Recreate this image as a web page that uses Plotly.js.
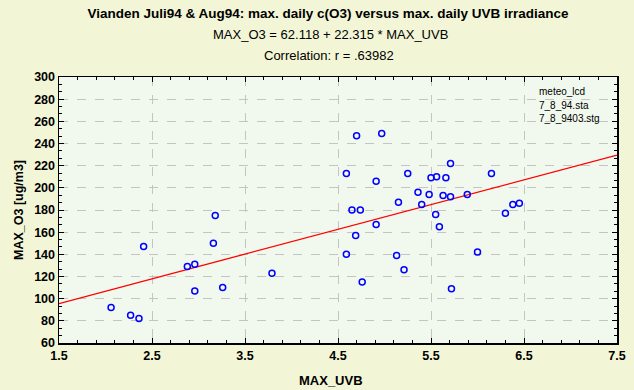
<!DOCTYPE html>
<html>
<head>
<meta charset="utf-8">
<script src="https://cdn.plot.ly/plotly-3.0.1.min.js"></script>
<style>html,body{margin:0;padding:0;background:#f3f6d6;}#chart{width:634px;height:390px;}</style>
</head>
<body>
<div id="chart"></div>
<script>
const maxUVB = [2.06, 2.27, 2.36, 2.41, 2.88, 2.96, 2.96, 3.16, 3.18, 3.26, 3.79,
  4.70, 4.97, 5.71, 4.59, 5.25, 6.15, 4.91, 5.50, 5.56, 5.66, 5.36, 5.48, 5.63, 5.71, 5.89,
  5.15, 5.40, 4.65, 4.74, 5.55, 4.91, 5.59, 4.69, 4.59, 5.13, 6.00, 5.21, 4.76, 5.72,
  6.38, 6.45, 6.30];
const maxO3 = [92, 85, 82, 147, 129, 131, 107, 150, 175, 110, 123,
  247, 249, 222, 213, 213, 213, 206, 209, 210, 209, 196, 194, 193, 192, 194,
  187, 185, 180, 180, 176, 167, 165, 157, 140, 139, 142, 126, 115, 109,
  185, 186, 177];
const fitIntercept = 62.118;
const fitSlope = 22.315;
const fitX = [1.5, 7.5];
const fitY = fitX.map(v => fitIntercept + fitSlope * v);
const legendLines = ["meteo_lcd", "7_8_94.sta", "7_8_9403.stg"];
const xTicks = [1.5, 2.5, 3.5, 4.5, 5.5, 6.5, 7.5];
const yTicks = [60, 80, 100, 120, 140, 160, 180, 200, 220, 240, 260, 280, 300];

const F = "Liberation Sans, Arial, sans-serif";
const T = 77, B = 343, L = 59, R = 617;
const py = p => (B - p) / (B - T);
const px = p => (p - L) / (R - L);

const traces = [
  {x: fitX, y: fitY, mode: 'lines', type: 'scatter', line: {color: '#ff0000', width: 1.3}, hoverinfo: 'skip'},
  {x: maxUVB, y: maxO3, mode: 'markers', type: 'scatter',
   marker: {symbol: 'circle-open', color: '#0000ff', size: 6, line: {width: 1.5, color: '#0000ff'}}}
];

const annotations = [
  {text: "MAX_O3 = 62.118 + 22.315 * MAX_UVB", xref: 'paper', yref: 'paper', x: px(330), y: py(34), showarrow: false, font: {family: F, size: 13, color: '#000'}, xanchor: 'center', yanchor: 'middle'},
  {text: "Correlation: r = .63982", xref: 'paper', yref: 'paper', x: px(329), y: py(56), showarrow: false, font: {family: F, size: 13, color: '#000'}, xanchor: 'center', yanchor: 'middle'},
  {text: "<b>MAX_UVB</b>", xref: 'paper', yref: 'paper', x: px(331), y: py(380), showarrow: false, font: {family: F, size: 13, color: '#000'}, xanchor: 'center', yanchor: 'middle'}
];
legendLines.forEach((t, i) => annotations.push({
  text: t, xref: 'paper', yref: 'paper', x: px(537), y: py(92 + 13 * i), showarrow: false,
  font: {family: F, size: 10, color: '#000'}, xanchor: 'left', yanchor: 'middle'
}));

const layout = {
  width: 634, height: 390,
  paper_bgcolor: '#f3f6d6', plot_bgcolor: '#f1f9ee',
  margin: {l: L, r: 634 - R, t: T, b: 390 - B, pad: 0},
  showlegend: false,
  title: {text: "<b>Vianden Juli94 & Aug94: max. daily c(O3) versus max. daily UVB irradiance</b>",
    x: 328 / 634, xref: 'container', xanchor: 'center', y: 1 - 13 / 390, yref: 'container', yanchor: 'middle',
    font: {family: F, size: 13.5, color: '#000'}},
  xaxis: {range: [1.5, 7.5], tickvals: xTicks, ticktext: xTicks.map(v => v.toFixed(1)),
    showgrid: true, gridcolor: '#c4c4c4', griddash: 'dash', gridwidth: 1,
    zeroline: false, showline: true, linecolor: '#000', linewidth: 1.5, mirror: 'ticks',
    ticks: 'inside', ticklen: 5, tickcolor: '#000',
    minor: {dtick: 0.2, tick0: 1.5, ticks: 'inside', ticklen: 3, tickcolor: '#000', showgrid: false},
    tickfont: {family: F, size: 12.5, color: '#000', weight: 'bold'}},
  yaxis: {range: [60, 300], tickvals: yTicks,
    showgrid: true, gridcolor: '#c4c4c4', griddash: 'dash', gridwidth: 1,
    zeroline: false, showline: true, linecolor: '#000', linewidth: 1.5, mirror: 'ticks',
    ticks: 'inside', ticklen: 5, tickcolor: '#000',
    minor: {dtick: 20 / 3, tick0: 60, ticks: 'inside', ticklen: 3, tickcolor: '#000', showgrid: false},
    tickfont: {family: F, size: 12.5, color: '#000', weight: 'bold'},
    title: {text: "<b>MAX_O3 [ug/m3]</b>", font: {family: F, size: 12.5, color: '#000'}, standoff: 8}},
  annotations: annotations
};

Plotly.newPlot('chart', traces, layout, {displayModeBar: false, staticPlot: true});
</script>
</body>
</html>
